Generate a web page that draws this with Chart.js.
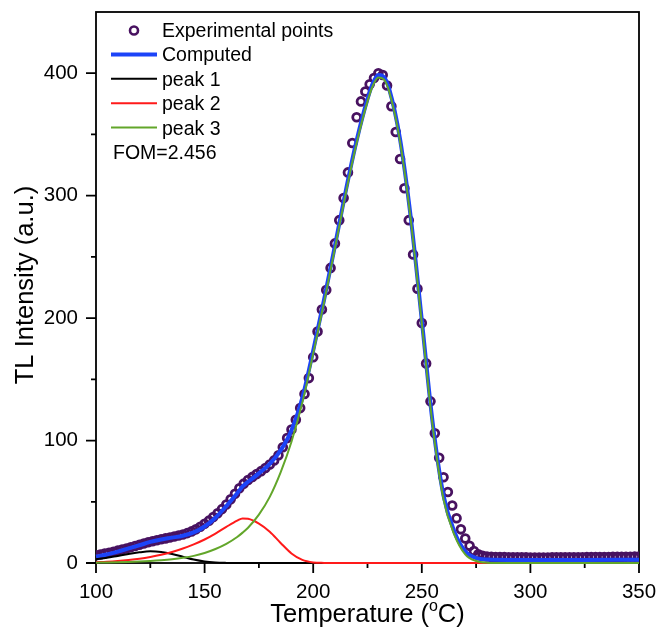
<!DOCTYPE html>
<html>
<head>
<meta charset="utf-8">
<script src="https://cdn.jsdelivr.net/npm/chart.js@4.4.0/dist/chart.umd.min.js"></script>
<style>
  html, body { margin: 0; padding: 0; background: #fff; }
  canvas { display: block; }
</style>
</head>
<body>
<canvas id="tlChart" width="658" height="631"></canvas>
<script>
// measured glow curve, one reading every 2 degC
const expTemp = [
  100,102,104,106,108,110,112,114,116,118,
  120,122,124,126,128,130,132,134,136,138,
  140,142,144,146,148,150,152,154,156,158,
  160,162,164,166,168,170,172,174,176,178,
  180,182,184,186,188,190,192,194,196,198,
  200,202,204,206,208,210,212,214,216,218,
  220,222,224,226,228,230,232,234,236,238,
  240,242,244,246,248,250,252,254,256,258,
  260,262,264,266,268,270,272,274,276,278,
  280,282,284,286,288,290,292,294,296,298,
  300,302,304,306,308,310,312,314,316,318,
  320,322,324,326,328,330,332,334,336,338,
  340,342,344,346,348,350
];
const expSignal = [
  6.3,7.0,7.7,8.4,9.2,10.1,11.0,11.9,12.9,13.9,
  14.9,15.9,16.9,17.8,18.6,19.4,20.1,20.8,21.6,22.4,
  23.3,24.4,25.8,27.5,29.6,32.0,34.6,37.5,40.6,44.0,
  47.8,52.0,56.5,61.0,64.8,67.8,70.3,72.6,75.0,77.6,
  80.5,83.8,88.0,94.5,102.0,109.0,117.0,126.5,138.0,151.0,
  168,189,207,223,241,261,280,298,319,343,
  364,377,385,391,396,400,398.5,390,373,352,
  330,306,280,252,224,196,163,132,106,86,
  70,58,47,36.5,27.5,20,14,9.8,7.2,5.9,
  5.3,5.0,4.9,4.8,4.8,4.7,4.7,4.6,4.6,4.6,
  4.5,4.5,4.5,4.5,4.5,4.6,4.6,4.6,4.6,4.7,
  4.7,4.7,4.7,4.8,4.8,4.8,4.9,4.9,4.9,5.0,
  5.0,5.0,5.1,5.1,5.2,5.2
];

// deconvolution result (computed sum and the three component peaks)
const fitTemp = [100,105,110,115,120,125,130,135,140,145,150,155,160,165,167.5,170,175,180,185,190,
                 195,200,205,210,215,220,225,227.5,230,232.5,235,240,245,250,255,260,265,270,275,280,
                 290,300,325,350];
const computedFit = [5.3,7.0,9.3,11.9,14.5,17.2,19.2,20.7,22.3,25.0,29.8,37.0,46.5,57.0,62.5,66.3,73.2,81.0,92.0,108.5,
                     135,173.5,215,259,304,345,379,392,398.5,397,387,346,281,198.5,114.5,55,25.5,9.5,4.0,2.8,
                     2.5,2.5,2.5,2.6];
const peak1 = [3.0,4.3,5.8,7.3,8.7,9.5,9.0,7.4,5.1,2.8,1.2,0.4,0.1,0,0,0,0,0,0,0,
               0,0,0,0,0,0,0,0,0,0,0,0,0,0,0,0,0,0,0,0,
               0,0,0,0];
const peak2 = [0.7,1.1,1.7,2.5,3.5,4.9,6.7,9.0,11.8,15.2,19.2,24.0,29.5,34.6,36.4,36.1,32.2,25.6,16.4,7.8,
               2.5,0.5,0.1,0,0,0,0,0,0,0,0,0,0,0,0,0,0,0,0,0,
               0,0,0,0];
const peak3 = [0.3,0.45,0.65,0.9,1.25,1.7,2.3,3.1,4.2,5.8,8.2,11.4,15.6,21.2,24.8,28.8,39.5,54,74,99,
               131,171,213,257,302,343,377,390,396.5,395,385,344,279,196,112,52,23,7,1.6,0.3,
               0,0,0,0];

const fomText = 'FOM=2.456';

const xMajor = [100, 150, 200, 250, 300, 350];
const xMinor = [125, 175, 225, 275, 325];
const yMajor = [0, 100, 200, 300, 400];
const yMinor = [50, 150, 250, 350];

const FONT = '"Liberation Sans", Arial, sans-serif';
const PURPLE = '#481260';
const BLUE = '#1c44f8';
const RED = '#ff1a1a';
const GREEN = '#62a62a';

function pairs(xs, ys) {
  return xs.map((x, i) => ({ x: x, y: ys[i] }));
}

function curve(label, ys, color, width, order) {
  return {
    label: label,
    data: pairs(fitTemp, ys),
    borderColor: color,
    borderWidth: width,
    pointRadius: 0,
    fill: false,
    cubicInterpolationMode: 'monotone',
    clip: false,
    order: order
  };
}

// keep the plot box where the layout padding puts it
function noScalePadding(scale) {
  scale.paddingTop = 0;
  scale.paddingBottom = 0;
  scale.paddingLeft = 0;
  scale.paddingRight = 0;
}

// box round the plot plus outward major/minor ticks
const frameTicks = {
  id: 'frameTicks',
  beforeDatasetsDraw(chart) {
    const { ctx, chartArea: a, scales: { x, y } } = chart;
    ctx.save();
    ctx.strokeStyle = '#000';
    ctx.lineWidth = 1.8;
    ctx.strokeRect(a.left, a.top, a.right - a.left, a.bottom - a.top);
    ctx.beginPath();
    xMajor.forEach(v => { const px = x.getPixelForValue(v); ctx.moveTo(px, a.bottom); ctx.lineTo(px, a.bottom + 10); });
    xMinor.forEach(v => { const px = x.getPixelForValue(v); ctx.moveTo(px, a.bottom); ctx.lineTo(px, a.bottom + 5); });
    yMajor.forEach(v => { const py = y.getPixelForValue(v); ctx.moveTo(a.left, py); ctx.lineTo(a.left - 10, py); });
    yMinor.forEach(v => { const py = y.getPixelForValue(v); ctx.moveTo(a.left, py); ctx.lineTo(a.left - 5, py); });
    ctx.stroke();
    ctx.restore();
  }
};

// axis titles and the legend box in the upper left
const annotations = {
  id: 'annotations',
  afterDraw(chart) {
    const { ctx, chartArea: a } = chart;
    ctx.save();
    ctx.fillStyle = '#000';

    // y title
    ctx.font = '25.5px ' + FONT;
    ctx.textAlign = 'center';
    ctx.textBaseline = 'alphabetic';
    ctx.save();
    ctx.translate(33, 285);
    ctx.rotate(-Math.PI / 2);
    ctx.fillText('TL Intensity (a.u.)', 0, 0);
    ctx.restore();

    // x title with superscript degree
    const main1 = 'Temperature (';
    const sup = 'o';
    const main2 = 'C)';
    ctx.textAlign = 'left';
    ctx.font = '25.5px ' + FONT;
    const w1 = ctx.measureText(main1).width;
    const w3 = ctx.measureText(main2).width;
    ctx.font = '16px ' + FONT;
    const w2 = ctx.measureText(sup).width;
    const cx = (a.left + a.right) / 2;
    let tx = cx - (w1 + w2 + w3) / 2;
    const base = 622;
    ctx.font = '25.5px ' + FONT;
    ctx.fillText(main1, tx, base);
    tx += w1;
    ctx.font = '16px ' + FONT;
    ctx.fillText(sup, tx, base - 11);
    tx += w2;
    ctx.font = '25.5px ' + FONT;
    ctx.fillText(main2, tx, base);

    // legend
    ctx.font = '19.5px ' + FONT;
    ctx.textAlign = 'left';
    chart.data.datasets.forEach((ds, i) => {
      const baseY = 37 + i * 24.4;
      const midY = baseY - 7;
      if (ds.showLine === false) {
        ctx.beginPath();
        ctx.arc(134, midY + 0.5, 4, 0, Math.PI * 2);
        ctx.lineWidth = 2.6;
        ctx.strokeStyle = ds.pointBorderColor;
        ctx.stroke();
      } else {
        ctx.beginPath();
        ctx.moveTo(111, midY);
        ctx.lineTo(157, midY);
        ctx.lineWidth = ds.borderWidth;
        ctx.strokeStyle = ds.borderColor;
        ctx.stroke();
      }
      ctx.fillText(ds.label, 162, baseY);
    });
    ctx.fillText(fomText, 113, 37 + 5 * 24.4);
    ctx.restore();
  }
};

new Chart(document.getElementById('tlChart'), {
  type: 'line',
  data: {
    datasets: [
      {
        label: 'Experimental points',
        data: pairs(expTemp, expSignal),
        showLine: false,
        pointStyle: 'circle',
        pointRadius: 3.9,
        pointBorderWidth: 2.8,
        pointBorderColor: PURPLE,
        pointBackgroundColor: 'rgba(255,255,255,0)',
        order: 5
      },
      curve('Computed', computedFit, BLUE, 4, 4),
      curve('peak 1', peak1, '#000000', 2, 3),
      curve('peak 2', peak2, RED, 2, 2),
      curve('peak 3', peak3, GREEN, 2, 1)
    ]
  },
  options: {
    responsive: false,
    animation: false,
    devicePixelRatio: 1,
    layout: { padding: { top: 12, right: 19, left: 0, bottom: 0 } },
    plugins: {
      legend: { display: false },
      tooltip: { enabled: false }
    },
    scales: {
      x: {
        type: 'linear',
        min: 100,
        max: 350,
        grid: { display: false, drawTicks: false },
        border: { display: false },
        ticks: {
          color: '#000',
          padding: 17,
          maxRotation: 0,
          font: { family: FONT, size: 20.5 }
        },
        afterBuildTicks: axis => { axis.ticks = xMajor.map(v => ({ value: v })); },
        afterFit: scale => { scale.height = 68; noScalePadding(scale); }
      },
      y: {
        type: 'linear',
        min: 0,
        max: 450,
        grid: { display: false, drawTicks: false },
        border: { display: false },
        ticks: {
          color: '#000',
          padding: 18,
          font: { family: FONT, size: 20.5 }
        },
        afterBuildTicks: axis => { axis.ticks = yMajor.map(v => ({ value: v })); },
        afterFit: scale => { scale.width = 96; noScalePadding(scale); }
      }
    }
  },
  plugins: [frameTicks, annotations]
});
</script>
</body>
</html>
